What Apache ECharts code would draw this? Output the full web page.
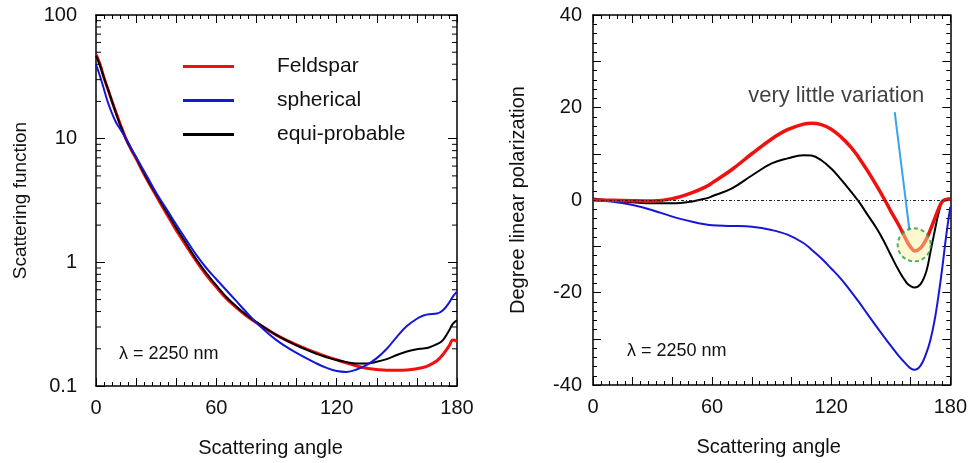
<!DOCTYPE html>
<html>
<head>
<meta charset="utf-8">
<script src="https://cdn.jsdelivr.net/npm/echarts@6/dist/echarts.min.js"></script>
<style>html,body{margin:0;padding:0;background:#fff}#c{width:970px;height:463px}</style>
</head>
<body>
<div id="c"></div>
<script>
// ---- Left panel: scattering function (log scale) ----
const anglesL = [0,2,4,6,8,10,12,15,18,20,25,30,35,40,45,50,55,60,65,70,75,80,90,100,110,115,120,125,130,135,140,145,150,155,160,163,166,170,173,176,178,180];
const feldsparL = [48,40,31,25,20,16.2,13.2,9.9,7.9,6.9,4.8,3.45,2.5,1.82,1.36,1.02,0.79,0.63,0.51,0.43,0.37,0.325,0.258,0.215,0.185,0.173,0.163,0.153,0.145,0.139,0.136,0.134,0.134,0.135,0.138,0.141,0.147,0.16,0.18,0.21,0.235,0.23];
const sphericalL = [40,32,25,19.5,16,13.5,12,10,8.1,7.1,5.1,3.65,2.72,2.02,1.52,1.15,0.9,0.73,0.595,0.485,0.395,0.325,0.235,0.185,0.152,0.14,0.132,0.13,0.136,0.148,0.168,0.2,0.25,0.305,0.35,0.37,0.38,0.385,0.41,0.47,0.53,0.58];
const equiL = [47,39,31,25,20,16,13,9.9,8,7,4.9,3.55,2.6,1.9,1.42,1.06,0.82,0.65,0.525,0.44,0.375,0.328,0.258,0.213,0.182,0.171,0.162,0.156,0.152,0.152,0.157,0.165,0.178,0.19,0.198,0.201,0.205,0.218,0.235,0.28,0.32,0.34];
const logMinorTicks = [0.2,0.3,0.4,0.5,0.6,0.7,0.8,0.9,2,3,4,5,6,7,8,9,20,30,40,50,60,70,80,90];

// ---- Right panel: degree of linear polarization ----
const anglesR = [0,10,20,30,40,50,57,60,70,80,90,98,106,110,115,120,125,130,134,138,143,147,150,154,158,160,162,165,168,170,172,174,176,178,180];
const feldsparR = [0,-0.05,-0.15,-0.2,0.3,1.6,2.9,3.7,6.6,10.0,13.2,15.2,16.4,16.6,16.3,15.3,13.6,11.4,9.1,6.5,3.0,0,-2.4,-5.4,-8.8,-10.2,-11,-10.4,-8.4,-6.4,-4.2,-2.0,-0.3,0.1,0.2];
const sphericalR = [0,-0.4,-1.1,-2.2,-3.6,-4.7,-5.3,-5.45,-5.6,-5.8,-6.5,-7.5,-9.3,-10.7,-12.6,-14.8,-17.1,-19.8,-22.1,-24.5,-27.5,-29.8,-31.5,-33.7,-35.6,-36.4,-36.7,-35.8,-33.0,-30.2,-26.2,-20.8,-14.5,-7.5,-1.5];
const equiR = [0.3,-0.2,-0.5,-0.7,-0.7,-0.3,0.35,0.8,2.5,5.3,7.9,9.0,9.7,9.6,8.6,6.8,4.4,1.8,-0.4,-3.0,-6.2,-9.3,-11.9,-15.2,-17.9,-18.6,-18.9,-18.2,-15.3,-11.2,-7.0,-3.0,-0.3,0.2,0.3];

const xTickLabels = ['0','60','120','180'];
const logTickLabels = ['0.1','1','10','100'];
const polTickLabels = ['-40','-20','0','20','40'];

const highlightPoint = [161.8, -9.7];
const arrowFrom = [152, 19];
const arrowTo = [159.4, -6.5];
const annotationPos = [122.5, 22.5];
const annotationText = 'very little variation';
const lambdaText = 'λ = 2250 nm';

const FONT = 'Liberation Sans, Arial, sans-serif';
const RED = '#f01010', BLUE = '#1616d8', BLACK = '#000000';

const zip = (xs, ys) => xs.map((x, i) => [x, ys[i]]);

function xAxisBase(grid, pos, showLabel, name) {
  return {
    type: 'value', gridIndex: grid, position: pos, min: 0, max: 180, interval: 20,
    axisLine: {show: true, onZero: false, lineStyle: {color: '#000', width: 1.5}},
    axisTick: {show: true, inside: true, length: 8, lineStyle: {color: '#000', width: 1}},
    minorTick: {show: true, splitNumber: 5, length: 4, lineStyle: {color: '#000', width: 1}},
    splitLine: {show: false}, minorSplitLine: {show: false},
    axisLabel: {
      show: showLabel, margin: 12, fontSize: 20, fontFamily: FONT, color: '#111',
      formatter: v => xTickLabels.indexOf(String(v)) >= 0 ? String(v) : ''
    },
    name: name || '', nameLocation: 'middle', nameGap: 52,
    nameTextStyle: {fontSize: 20, fontFamily: FONT, color: '#111', padding: grid === 0 ? [0, 12, 0, 0] : [0, 6, 0, 0]}
  };
}

const option = {
  animation: false,
  backgroundColor: '#fff',
  grid: [
    {left: 96, top: 15, width: 361, height: 371},
    {left: 593, top: 15, width: 360, height: 370}
  ],
  legend: {
    show: true, left: 183, top: 56, orient: 'vertical', padding: 0,
    itemWidth: 51, itemHeight: 3, itemGap: 13, icon: 'rect',
    data: ['Feldspar', 'spherical', 'equi-probable'],
    textStyle: {fontSize: 21, fontFamily: FONT, color: '#111', padding: [0, 0, 0, 38], lineHeight: 20}
  },
  xAxis: [
    xAxisBase(0, 'bottom', true, 'Scattering angle'),
    xAxisBase(0, 'top', false),
    xAxisBase(1, 'bottom', true, 'Scattering angle'),
    xAxisBase(1, 'top', false)
  ],
  yAxis: [
    {
      type: 'log', logBase: 10, gridIndex: 0, position: 'left', min: 0.1, max: 100,
      axisLine: {show: true, onZero: false, lineStyle: {color: '#000', width: 1.5}},
      axisTick: {show: true, inside: true, length: 9, lineStyle: {color: '#000'}},
      splitLine: {show: false},
      axisLabel: {margin: 19, fontSize: 20, fontFamily: FONT, color: '#111',
        formatter: v => { const s = String(+v.toPrecision(3)); return logTickLabels.indexOf(s) >= 0 ? s : ''; }},
      name: 'Scattering function', nameLocation: 'middle', nameGap: 66,
      nameTextStyle: {fontSize: 19, fontFamily: FONT, color: '#111'}
    },
    {
      type: 'log', logBase: 10, gridIndex: 0, position: 'right', min: 0.1, max: 100,
      axisLine: {show: true, onZero: false, lineStyle: {color: '#000', width: 1.5}},
      axisTick: {show: true, inside: true, length: 9, lineStyle: {color: '#000'}},
      splitLine: {show: false}, axisLabel: {show: false}
    },
    {
      type: 'value', gridIndex: 1, position: 'left', min: -40, max: 40, interval: 10,
      axisLine: {show: true, onZero: false, lineStyle: {color: '#000', width: 1.5}},
      axisTick: {show: true, inside: true, length: 8, lineStyle: {color: '#000'}},
      minorTick: {show: true, splitNumber: 5, length: 4, lineStyle: {color: '#000'}},
      splitLine: {show: false},
      axisLabel: {margin: 11, fontSize: 20, fontFamily: FONT, color: '#111',
        formatter: v => polTickLabels.indexOf(String(v)) >= 0 ? String(v) : ''},
      name: 'Degree linear polarization', nameLocation: 'middle', nameGap: 65,
      nameTextStyle: {fontSize: 20, fontFamily: FONT, color: '#111'}
    },
    {
      type: 'value', gridIndex: 1, position: 'right', min: -40, max: 40, interval: 10,
      axisLine: {show: true, onZero: false, lineStyle: {color: '#000', width: 1.5}},
      axisTick: {show: true, inside: true, length: 8, lineStyle: {color: '#000'}},
      minorTick: {show: true, splitNumber: 5, length: 4, lineStyle: {color: '#000'}},
      splitLine: {show: false}, axisLabel: {show: false}
    }
  ],
  graphic: [
    {type: 'text', left: 119, top: 345, style: {text: lambdaText, font: '18px ' + FONT, fill: '#111'}},
    {type: 'text', left: 627, top: 342, style: {text: lambdaText, font: '18px ' + FONT, fill: '#111'}}
  ],
  series: [
    {
      type: 'custom', xAxisIndex: 0, yAxisIndex: 0, silent: true, clip: false, z: 5,
      data: logMinorTicks.map(v => [0, v]),
      renderItem: (params, api) => {
        const v = api.value(1);
        const pL = api.coord([0, v]);
        const pR = api.coord([180, v]);
        return {type: 'group', children: [
          {type: 'line', shape: {x1: pL[0], y1: pL[1], x2: pL[0] + 5, y2: pL[1]}, style: {stroke: '#000', lineWidth: 1}},
          {type: 'line', shape: {x1: pR[0] - 5, y1: pR[1], x2: pR[0], y2: pR[1]}, style: {stroke: '#000', lineWidth: 1}}
        ]};
      }
    },
    {name: 'equi-probable', type: 'line', xAxisIndex: 0, yAxisIndex: 0, data: zip(anglesL, equiL), smooth: 0.4,
      showSymbol: false, lineStyle: {color: BLACK, width: 2}, itemStyle: {color: BLACK}, z: 3},
    {name: 'spherical', type: 'line', xAxisIndex: 0, yAxisIndex: 0, data: zip(anglesL, sphericalL), smooth: 0.4,
      showSymbol: false, lineStyle: {color: BLUE, width: 2}, itemStyle: {color: BLUE}, z: 3},
    {name: 'Feldspar', type: 'line', xAxisIndex: 0, yAxisIndex: 0, data: zip(anglesL, feldsparL), smooth: 0.4,
      showSymbol: false, lineStyle: {color: RED, width: 3}, itemStyle: {color: RED}, z: 2},

    {name: 'equi-probable', type: 'line', xAxisIndex: 2, yAxisIndex: 2, data: zip(anglesR, equiR), smooth: 0.4,
      showSymbol: false, lineStyle: {color: BLACK, width: 2}, itemStyle: {color: BLACK}, z: 3,
      markLine: {silent: true, symbol: ['none', 'none'], label: {show: false},
        lineStyle: {color: '#222', width: 1, type: [3, 2, 1, 2]}, data: [{yAxis: 0}]}},
    {name: 'spherical', type: 'line', xAxisIndex: 2, yAxisIndex: 2, data: zip(anglesR, sphericalR), smooth: 0.4,
      showSymbol: false, lineStyle: {color: BLUE, width: 2}, itemStyle: {color: BLUE}, z: 3},
    {name: 'Feldspar', type: 'line', xAxisIndex: 2, yAxisIndex: 2, data: zip(anglesR, feldsparR), smooth: 0.4,
      showSymbol: false, lineStyle: {color: RED, width: 3.5}, itemStyle: {color: RED}, z: 4},
    {
      type: 'scatter', xAxisIndex: 2, yAxisIndex: 2, silent: true, z: 6,
      data: [highlightPoint], symbol: 'circle', symbolSize: 33,
      itemStyle: {color: 'rgba(248,242,160,0.6)', borderColor: '#2a9a3a', borderWidth: 2, borderType: [4, 3]},
      markLine: {silent: true, symbol: ['none', 'arrow'], symbolSize: [0, 14], label: {show: false},
        lineStyle: {color: '#3aa2ea', width: 2, type: 'solid'},
        data: [[{coord: arrowFrom}, {coord: arrowTo}]]}
    },
    {
      type: 'scatter', xAxisIndex: 2, yAxisIndex: 2, silent: true, z: 7,
      data: [annotationPos], symbolSize: 1, itemStyle: {color: 'rgba(0,0,0,0)'},
      label: {show: true, position: 'inside', formatter: annotationText, fontSize: 22, fontFamily: FONT, color: '#111'}
    }
  ]
};

const chart = echarts.init(document.getElementById('c'), null, {renderer: 'canvas'});
chart.setOption(option);
</script>
</body>
</html>
